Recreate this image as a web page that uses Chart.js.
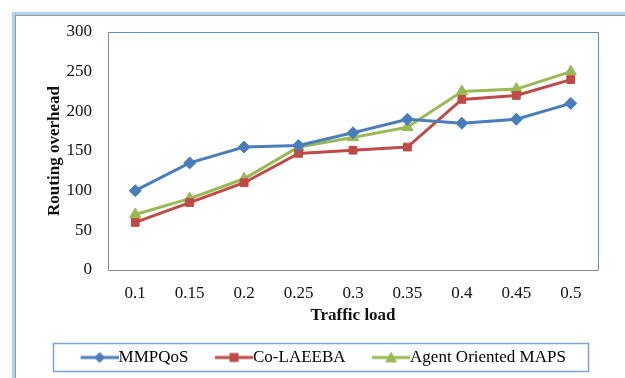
<!DOCTYPE html>
<html>
<head>
<meta charset="utf-8">
<script src="https://cdn.jsdelivr.net/npm/chart.js@4"></script>
<style>
  html, body { margin: 0; padding: 0; background: #fff; }
  canvas { display: block; }
</style>
</head>
<body>
<canvas id="grafico" width="625" height="378"></canvas>
<script>
const cargas = ['0.1', '0.15', '0.2', '0.25', '0.3', '0.35', '0.4', '0.45', '0.5'];
const mmpqos = [100, 135, 155, 157, 173, 190, 185, 190, 210];
const coLaeeba = [60, 85, 110, 147, 151, 155, 215, 220, 240];
const agentMaps = [70, 90, 115, 155, 167, 180, 225, 228, 250];
const yTicks = [0, 50, 100, 150, 200, 250, 300];

const fuente = "'Liberation Serif', 'Times New Roman', serif";
const anchoCaja = 52;

// muestra para la leyenda: linea con el marcador en el medio (pegada al texto)
function muestra(color, estilo) {
    const c = document.createElement('canvas');
    c.width = anchoCaja + 17; c.height = 14;
    const ctx = c.getContext('2d');
    const x0 = c.width - 38, cx = x0 + 19;
    ctx.strokeStyle = color;
    ctx.fillStyle = color;
    ctx.lineWidth = 3;
    ctx.beginPath(); ctx.moveTo(x0, 7); ctx.lineTo(c.width, 7); ctx.stroke();
    ctx.beginPath();
    if (estilo == 'rombo') {
        ctx.moveTo(cx, 1.5); ctx.lineTo(cx + 5.5, 7); ctx.lineTo(cx, 12.5); ctx.lineTo(cx - 5.5, 7);
    } else if (estilo == 'cuadrado') {
        ctx.rect(cx - 4.5, 2.5, 9, 9);
    } else {
        ctx.moveTo(cx, 1); ctx.lineTo(cx + 6, 12); ctx.lineTo(cx - 6, 12);
    }
    ctx.closePath(); ctx.fill();
    return c;
}

const marco = {
    id: 'marco',
    afterLayout(chart) {
        // corre la leyenda un poco a la izquierda
        chart.legend.left -= 18;
    },
    beforeDraw(chart) {
        const ctx = chart.ctx;
        ctx.save();
        ctx.fillStyle = '#fff';
        ctx.fillRect(0, 0, chart.width, chart.height);
        ctx.strokeStyle = '#b3cff2';
        ctx.lineWidth = 3;
        ctx.strokeRect(13.5, 13.5, 700, 500);
        ctx.strokeStyle = '#9a9a9a';
        ctx.lineWidth = 1;
        ctx.strokeRect(15.5, 15.5, 700, 500);
        ctx.restore();
    },
    afterDraw(chart) {
        const ctx = chart.ctx;
        const a = chart.chartArea;
        ctx.save();
        ctx.lineWidth = 1;
        ctx.strokeStyle = '#5b8dd3';
        ctx.beginPath();
        ctx.moveTo(a.left, a.top + 0.5); ctx.lineTo(a.right + 0.5, a.top + 0.5); ctx.lineTo(a.right + 0.5, a.bottom);
        ctx.stroke();
        ctx.strokeStyle = '#8a8a8a';
        ctx.beginPath();
        ctx.moveTo(a.left + 0.5, a.top); ctx.lineTo(a.left + 0.5, a.bottom + 0.5); ctx.lineTo(a.right + 0.5, a.bottom + 0.5);
        ctx.stroke();
        // borde de la leyenda
        const cajas = chart.legend.legendHitBoxes;
        if (cajas && cajas.length) {
            const izq = Math.min(...cajas.map(b => b.left)) + (anchoCaja - 30) - 27;
            const der = Math.max(...cajas.map(b => b.left + b.width)) + 22;
            ctx.strokeStyle = '#7fa3d6';
            ctx.lineWidth = 1.5;
            ctx.strokeRect(Math.round(izq) + 0.5, 343.5, Math.round(der - izq), 28);
        }
        ctx.restore();
    }
};

new Chart(document.getElementById('grafico'), {
    type: 'line',
    data: {
        labels: cargas,
        datasets: [
            { label: 'MMPQoS', data: mmpqos, borderColor: '#4a7ebb', backgroundColor: '#4a7ebb',
              pointStyle: 'rectRot', pointRadius: 6, legendImg: muestra('#4a7ebb', 'rombo') },
            { label: 'Co-LAEEBA', data: coLaeeba, borderColor: '#be4b48', backgroundColor: '#be4b48',
              pointStyle: 'rect', pointRadius: 5.5, legendImg: muestra('#be4b48', 'cuadrado') },
            { label: 'Agent Oriented MAPS', data: agentMaps, borderColor: '#98b954', backgroundColor: '#98b954',
              pointStyle: 'triangle', pointRadius: 6.5, legendImg: muestra('#98b954', 'triangulo') }
        ].map(d => ({ ...d, borderWidth: 3, pointBorderWidth: 1, tension: 0 }))
    },
    options: {
        responsive: false,
        animation: false,
        devicePixelRatio: 1,
        layout: { padding: { left: 44, top: 32, right: 27, bottom: 2 } },
        plugins: {
            tooltip: { enabled: false },
            legend: {
                position: 'bottom',
                labels: {
                    usePointStyle: true,
                    pointStyleWidth: anchoCaja,
                    padding: 4,
                    color: '#111',
                    font: { family: fuente, size: 17 },
                    generateLabels(chart) {
                        return chart.data.datasets.map((d, i) => ({
                            text: d.label,
                            pointStyle: d.legendImg,
                            fillStyle: d.borderColor,
                            strokeStyle: d.borderColor,
                            lineWidth: 0,
                            hidden: false,
                            datasetIndex: i
                        }));
                    }
                }
            }
        },
        scales: {
            x: {
                offset: true,
                grid: { display: false, drawTicks: false, offset: true },
                border: { display: false },
                ticks: { color: '#111', padding: 13, font: { family: fuente, size: 17 } },
                title: { display: true, text: 'Traffic load', color: '#111',
                         font: { family: fuente, size: 17, weight: 'bold' }, padding: { top: 0, bottom: 19 } },
                afterFit(scale) { scale.height = 75; }
            },
            y: {
                min: 0, max: 300,
                grid: { display: false, drawTicks: false },
                border: { display: false },
                afterBuildTicks(scale) { scale.ticks = yTicks.map(v => ({ value: v })); },
                ticks: { color: '#111', padding: 16, font: { family: fuente, size: 17 } },
                title: { display: true, text: 'Routing overhead', color: '#111',
                         font: { family: fuente, size: 17, weight: 'bold' }, padding: 0 },
                afterFit(scale) { scale.width = 64; }
            }
        }
    },
    plugins: [marco]
});
</script>
</body>
</html>
